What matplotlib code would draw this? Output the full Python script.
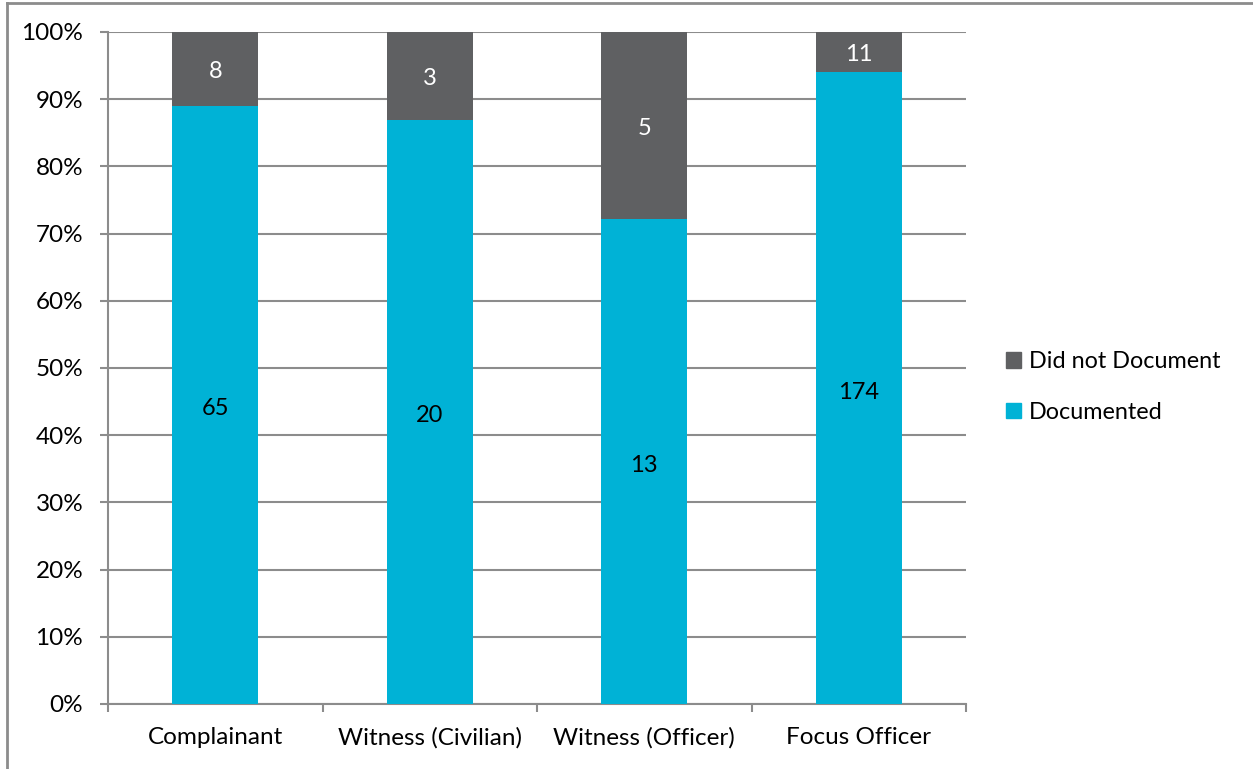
import numpy as np
import matplotlib.pyplot as plt
from matplotlib.lines import Line2D
from matplotlib.patches import Patch
from matplotlib.ticker import PercentFormatter

categories = ['Complainant', 'Witness (Civilian)', 'Witness (Officer)', 'Focus Officer']
documented = [65, 20, 13, 174]
not_documented = [8, 3, 5, 11]

c_doc = '#00B2D6'
c_not = '#5F6062'
c_grid = '#8C8C8C'

plt.rcParams['font.family'] = ['Lato', 'DejaVu Sans']

doc = np.array(documented, dtype=float)
nd = np.array(not_documented, dtype=float)
tot = doc + nd
p_doc = doc / tot * 100
p_nd = nd / tot * 100

fig = plt.figure(figsize=(12.53, 7.69), dpi=100)
ax = fig.add_axes([108 / 1253, 1 - 704 / 769, (966 - 108) / 1253, (704 - 32) / 769])

x = np.arange(len(categories))
w = 0.40
ax.bar(x, p_doc, w, color=c_doc, zorder=3)
ax.bar(x, p_nd, w, bottom=p_doc, color=c_not, zorder=3)

# labels sit a touch below the segment centre, like the original
for i in range(len(x)):
    ax.annotate(str(documented[i]), (x[i], p_doc[i] / 2), xytext=(0, -3),
                textcoords='offset points', ha='center', va='center',
                fontsize=17, color='black', zorder=4)
    ax.annotate(str(not_documented[i]), (x[i], p_doc[i] + p_nd[i] / 2), xytext=(0, -2),
                textcoords='offset points', ha='center', va='center',
                fontsize=17, color='white', zorder=4)

ax.set_xlim(-0.5, len(categories) - 0.5)
ax.set_ylim(0, 100)
ax.set_yticks(np.arange(0, 101, 10))
ax.yaxis.set_major_formatter(PercentFormatter(decimals=0))
ax.set_xticks(x)
ax.set_xticklabels(categories)
ax.set_xticks(np.arange(-0.5, len(categories), 1), minor=True)
ax.tick_params(axis='x', which='major', length=0, pad=16.5, labelsize=17.5)
ax.tick_params(axis='x', which='minor', length=5.8, width=1.5, color=c_grid, direction='out')
ax.tick_params(axis='y', length=5.8, width=1.5, color=c_grid, labelsize=17.5, pad=12)

ax.grid(axis='y', color=c_grid, linewidth=1.5, zorder=0)
for s in ['top', 'right']:
    ax.spines[s].set_visible(False)
for s in ['left', 'bottom']:
    ax.spines[s].set_color(c_grid)
    ax.spines[s].set_linewidth(1.5)

handles = [Patch(color=c_not, label='Did not Document'),
           Patch(color=c_doc, label='Documented')]
fig.legend(handles=handles, loc='center left', bbox_to_anchor=(985 / 1253, 1 - 387 / 769),
           frameon=False, fontsize=16.8, handlelength=0.65, handleheight=0.65,
           handletextpad=0.35, labelspacing=1.25)

fig.add_artist(Line2D([6.5 / 1253, 6.5 / 1253], [0, 1 - 3 / 769], color='#8C8C8C', lw=2))
fig.add_artist(Line2D([6.5 / 1253, 1], [1 - 3 / 769, 1 - 3 / 769], color='#8C8C8C', lw=2))

fig.savefig('out.png', dpi=100)
